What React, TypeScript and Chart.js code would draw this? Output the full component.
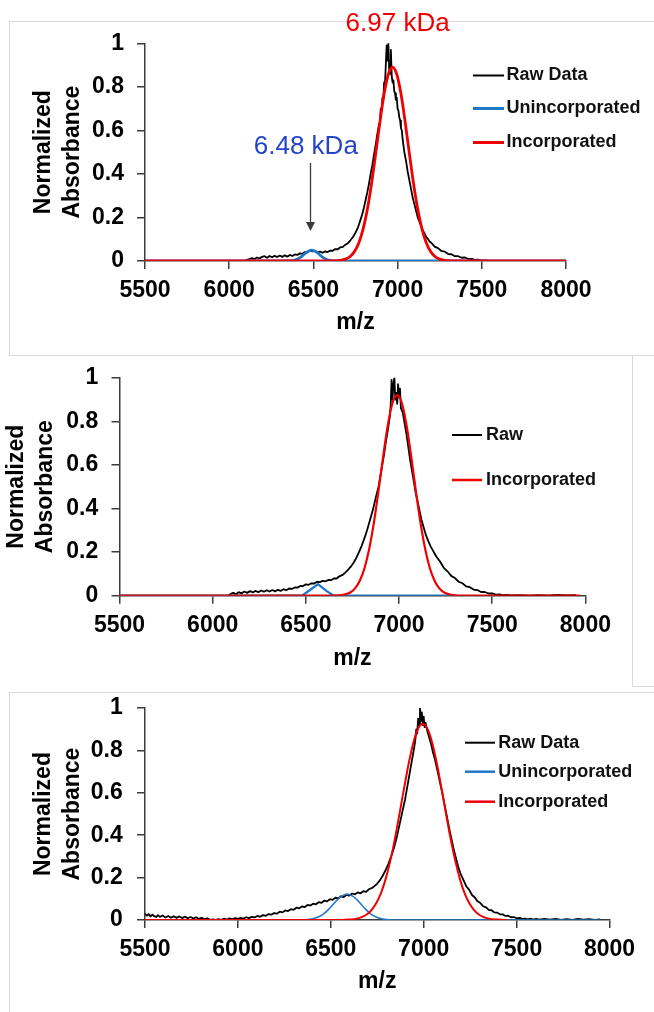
import React, { useEffect, useRef } from "react";
import { Chart, registerables } from "chart.js";

Chart.register(...registerables);

const FONT = "'Liberation Sans', Arial, Helvetica, sans-serif";

// ---------- axes ----------
const X_TICKS = [5500, 6000, 6500, 7000, 7500, 8000];
const X_TICK_LABELS = ["5500", "6000", "6500", "7000", "7500", "8000"];
const Y_TICKS = [0, 0.2, 0.4, 0.6, 0.8, 1];
const Y_TICK_LABELS = ["0", "0.2", "0.4", "0.6", "0.8", "1"];
const X_TITLE = "m/z";
const Y_TITLE = ["Normalized", "Absorbance"];

// ---------- legends / notes ----------
const P1_LABELS = ["Raw Data", "Unincorporated", "Incorporated"];
const P2_LABELS = ["Raw", "Incorporated"];
const P3_LABELS = ["Raw Data", "Unincorporated", "Incorporated"];
const P1_NOTES = ["6.97 kDa", "6.48 kDa"];
const P1_NOTE_MZ = [7000, 6455];
const P1_NOTE_ABS = [1.088, 0.525];
const P1_ARROW_MZ = 6480;
const P1_ARROW_ABS = [0.45, 0.138];

type Pt = [number, number];

// ---------- panel 1 ----------
const P1_RAW: Pt[] = [
  [6090, 0], [6105, 0.005], [6120, 0.009], [6135, 0.013], [6150, 0.009], [6165, 0.016], [6180, 0.012],
  [6195, 0.019], [6210, 0.022], [6225, 0.015], [6240, 0.023], [6255, 0.017], [6270, 0.024], [6285, 0.018],
  [6300, 0.025], [6315, 0.019], [6330, 0.026], [6345, 0.020], [6360, 0.028], [6375, 0.023], [6390, 0.030],
  [6405, 0.028], [6420, 0.035], [6435, 0.033], [6450, 0.041], [6465, 0.040], [6480, 0.047], [6495, 0.044],
  [6510, 0.046], [6525, 0.040], [6540, 0.043], [6555, 0.038], [6570, 0.044], [6585, 0.041], [6600, 0.048],
  [6615, 0.047], [6630, 0.055], [6645, 0.054], [6660, 0.063], [6675, 0.065], [6690, 0.075], [6705, 0.082],
  [6720, 0.095], [6735, 0.11], [6750, 0.13], [6765, 0.155], [6780, 0.19], [6790, 0.215], [6800, 0.245],
  [6810, 0.28], [6820, 0.315], [6830, 0.355], [6840, 0.40], [6850, 0.44], [6860, 0.49], [6870, 0.535],
  [6880, 0.585], [6890, 0.63], [6895, 0.64], [6900, 0.70], [6905, 0.69], [6910, 0.75], [6915, 0.74],
  [6920, 0.82], [6925, 0.81], [6930, 0.90], [6935, 0.99], [6940, 0.92], [6945, 1.0], [6950, 0.88],
  [6955, 0.86], [6960, 0.97], [6965, 0.85], [6970, 0.82], [6975, 0.83], [6980, 0.78], [6985, 0.77],
  [6990, 0.74], [6995, 0.75], [7000, 0.70], [7005, 0.69], [7010, 0.66], [7015, 0.645], [7020, 0.61],
  [7025, 0.60], [7030, 0.56], [7040, 0.50], [7050, 0.46], [7060, 0.41], [7070, 0.37], [7080, 0.33],
  [7090, 0.29], [7100, 0.26], [7110, 0.23], [7120, 0.20], [7130, 0.18], [7140, 0.16], [7150, 0.14],
  [7160, 0.127], [7170, 0.11], [7180, 0.102], [7190, 0.089], [7200, 0.084], [7220, 0.066], [7240, 0.059],
  [7260, 0.046], [7280, 0.043], [7300, 0.032], [7320, 0.031], [7340, 0.022], [7360, 0.022], [7380, 0.015],
  [7400, 0.016], [7420, 0.009], [7440, 0.010], [7460, 0.005], [7480, 0.006], [7500, 0.002], [7520, 0.003],
  [7540, 0.0], [7560, 0],
];
const P1_UNINC: Pt[] = [
  [5500, 0], [6340, 0], [6375, 0.002], [6400, 0.0068], [6425, 0.0176], [6450, 0.0337], [6475, 0.047],
  [6490, 0.05], [6505, 0.047], [6525, 0.037], [6550, 0.0206], [6575, 0.0084], [6600, 0.0025], [6625, 0.0006],
  [6660, 0], [8000, 0],
];
const P1_INC: Pt[] = [
  [5500, 0], [6600, 0], [6645, 0.0017], [6670, 0.0044], [6695, 0.010], [6720, 0.022], [6745, 0.045],
  [6770, 0.084], [6795, 0.146], [6820, 0.236], [6845, 0.354], [6870, 0.493], [6895, 0.638], [6920, 0.768],
  [6945, 0.858], [6970, 0.89], [6995, 0.858], [7020, 0.768], [7045, 0.638], [7070, 0.493], [7095, 0.354],
  [7120, 0.236], [7145, 0.146], [7170, 0.084], [7195, 0.045], [7220, 0.022], [7245, 0.010], [7270, 0.0044],
  [7295, 0.0017], [7340, 0], [8000, 0],
];

// ---------- panel 2 ----------
const P2_RAW: Pt[] = [
  [6080, 0], [6095, 0.007], [6110, 0.013], [6125, 0.007], [6140, 0.016], [6155, 0.011], [6170, 0.019],
  [6185, 0.013], [6200, 0.021], [6215, 0.015], [6230, 0.022], [6245, 0.016], [6260, 0.024], [6275, 0.018],
  [6290, 0.025], [6305, 0.019], [6320, 0.026], [6335, 0.020], [6350, 0.027], [6365, 0.022], [6380, 0.030],
  [6395, 0.025], [6410, 0.033], [6425, 0.031], [6440, 0.038], [6455, 0.037], [6470, 0.045], [6485, 0.044],
  [6500, 0.052], [6515, 0.050], [6530, 0.057], [6545, 0.056], [6560, 0.064], [6575, 0.062], [6590, 0.068],
  [6605, 0.066], [6620, 0.072], [6635, 0.071], [6650, 0.079], [6665, 0.079], [6680, 0.089], [6695, 0.094],
  [6710, 0.105], [6725, 0.117], [6740, 0.132], [6755, 0.15], [6770, 0.172], [6785, 0.20], [6800, 0.23],
  [6815, 0.265], [6830, 0.305], [6845, 0.35], [6860, 0.395], [6875, 0.45], [6890, 0.50], [6900, 0.55],
  [6910, 0.60], [6920, 0.65], [6930, 0.71], [6940, 0.76], [6950, 0.82], [6955, 0.87], [6960, 0.99],
  [6965, 0.90], [6970, 0.97], [6975, 1.0], [6980, 0.90], [6985, 0.93], [6990, 0.88], [6995, 0.97],
  [7000, 0.91], [7005, 0.95], [7010, 0.86], [7020, 0.84], [7030, 0.79], [7040, 0.74], [7050, 0.68],
  [7060, 0.62], [7070, 0.57], [7080, 0.52], [7090, 0.47], [7100, 0.43], [7110, 0.39], [7120, 0.35],
  [7130, 0.32], [7140, 0.29], [7150, 0.265], [7160, 0.245], [7170, 0.225], [7180, 0.21], [7190, 0.195],
  [7200, 0.18], [7220, 0.157], [7240, 0.128], [7260, 0.112], [7280, 0.091], [7300, 0.081], [7320, 0.064],
  [7340, 0.057], [7360, 0.043], [7380, 0.039], [7400, 0.028], [7420, 0.026], [7440, 0.017], [7460, 0.017],
  [7480, 0.010], [7500, 0.011], [7520, 0.005], [7540, 0.006], [7560, 0.002], [7580, 0.004], [7600, 0.001],
  [7650, 0.002], [7700, 0], [7750, 0.003], [7800, 0], [7850, 0.004], [7900, 0.001], [7950, 0.003],
];
const P2_UNINC: Pt[] = [
  [5500, 0], [6480, 0], [6520, 0.025], [6565, 0.053], [6610, 0.022], [6650, 0], [7310, 0],
];
const P2_INC: Pt[] = [
  [5500, 0], [6600, 0], [6640, 0.0003], [6665, 0.001], [6690, 0.003], [6715, 0.007], [6740, 0.016],
  [6765, 0.035], [6790, 0.070], [6815, 0.127], [6840, 0.215], [6865, 0.335], [6890, 0.482], [6915, 0.640],
  [6940, 0.783], [6965, 0.884], [6990, 0.92], [7015, 0.884], [7040, 0.783], [7065, 0.640], [7090, 0.482],
  [7115, 0.335], [7140, 0.215], [7165, 0.127], [7190, 0.070], [7215, 0.035], [7240, 0.016], [7265, 0.007],
  [7290, 0.003], [7315, 0.001], [7340, 0.0003], [7380, 0], [7970, 0],
];

// ---------- panel 3 ----------
const P3_RAW: Pt[] = [
  [5500, 0.030], [5510, 0.020], [5520, 0.028], [5530, 0.017], [5540, 0.025], [5550, 0.018], [5560, 0.014],
  [5570, 0.023], [5580, 0.015], [5595, 0.021], [5610, 0.012], [5625, 0.019], [5640, 0.011], [5655, 0.018],
  [5670, 0.010], [5685, 0.017], [5700, 0.009], [5715, 0.016], [5730, 0.008], [5745, 0.014], [5760, 0.007],
  [5775, 0.013], [5790, 0.005], [5805, 0.010], [5820, 0.003], [5835, 0.008], [5850, 0.001], [5865, 0.003],
  [5880, 0.0], [5895, 0.004], [5910, 0.001], [5925, 0.006], [5940, 0.002], [5955, 0.008], [5970, 0.003],
  [5985, 0.009], [6000, 0.005], [6015, 0.010], [6030, 0.007], [6045, 0.013], [6060, 0.009], [6075, 0.015],
  [6090, 0.012], [6105, 0.019], [6120, 0.015], [6135, 0.023], [6150, 0.020], [6165, 0.028], [6180, 0.025],
  [6195, 0.033], [6210, 0.030], [6225, 0.039], [6240, 0.036], [6255, 0.045], [6270, 0.042], [6285, 0.051],
  [6300, 0.048], [6315, 0.058], [6330, 0.055], [6345, 0.064], [6360, 0.061], [6375, 0.071], [6390, 0.068],
  [6405, 0.077], [6420, 0.074], [6435, 0.084], [6450, 0.081], [6465, 0.091], [6480, 0.088], [6495, 0.098],
  [6510, 0.095], [6525, 0.105], [6540, 0.102], [6555, 0.112], [6570, 0.108], [6585, 0.119], [6600, 0.115],
  [6615, 0.125], [6630, 0.121], [6645, 0.130], [6660, 0.126], [6675, 0.136], [6690, 0.133], [6705, 0.145],
  [6720, 0.150], [6735, 0.160], [6750, 0.172], [6765, 0.188], [6780, 0.21], [6795, 0.235], [6810, 0.265],
  [6825, 0.30], [6840, 0.34], [6855, 0.39], [6870, 0.45], [6885, 0.51], [6900, 0.57], [6910, 0.62],
  [6920, 0.67], [6930, 0.72], [6940, 0.77], [6950, 0.82], [6955, 0.85], [6960, 0.90], [6965, 0.88],
  [6970, 0.95], [6975, 0.92], [6980, 1.0], [6985, 0.94], [6990, 0.98], [6995, 0.92], [7000, 0.96],
  [7005, 0.91], [7010, 0.93], [7020, 0.89], [7030, 0.86], [7040, 0.83], [7050, 0.79], [7060, 0.76],
  [7070, 0.72], [7080, 0.68], [7090, 0.64], [7100, 0.60], [7110, 0.555], [7120, 0.51], [7130, 0.465],
  [7140, 0.42], [7150, 0.38], [7160, 0.34], [7170, 0.305], [7180, 0.27], [7190, 0.24], [7200, 0.215],
  [7215, 0.187], [7230, 0.158], [7245, 0.142], [7260, 0.118], [7275, 0.106], [7290, 0.088], [7305, 0.080],
  [7320, 0.065], [7335, 0.060], [7350, 0.048], [7365, 0.046], [7380, 0.036], [7395, 0.035], [7410, 0.027],
  [7425, 0.027], [7440, 0.019], [7455, 0.020], [7470, 0.013], [7485, 0.014], [7500, 0.008], [7515, 0.010],
  [7530, 0.005], [7545, 0.007], [7560, 0.003], [7575, 0.006], [7590, 0.002], [7605, 0.005], [7620, 0.002],
  [7650, 0.005], [7680, 0.002], [7710, 0.005], [7740, 0.001], [7770, 0.004], [7800, 0.001], [7830, 0.005],
  [7860, 0.002], [7890, 0.004], [7920, 0.001], [7950, 0.003],
];
const P3_UNINC: Pt[] = [
  [5500, 0], [6350, 0], [6388, 0.0035], [6413, 0.008], [6438, 0.0165], [6463, 0.030], [6488, 0.050],
  [6513, 0.074], [6538, 0.098], [6563, 0.115], [6588, 0.122], [6613, 0.115], [6638, 0.098], [6663, 0.074],
  [6688, 0.050], [6713, 0.030], [6738, 0.0165], [6763, 0.008], [6788, 0.0035], [6825, 0], [7950, 0],
];
const P3_INC: Pt[] = [
  [5500, 0], [6540, 0], [6570, 0.0008], [6595, 0.0018], [6620, 0.0038], [6645, 0.0077], [6670, 0.015],
  [6695, 0.027], [6720, 0.048], [6745, 0.080], [6770, 0.127], [6795, 0.193], [6820, 0.279], [6845, 0.383],
  [6870, 0.502], [6895, 0.625], [6920, 0.742], [6945, 0.839], [6970, 0.903], [6995, 0.925], [7020, 0.903],
  [7045, 0.839], [7070, 0.742], [7095, 0.625], [7120, 0.502], [7145, 0.383], [7170, 0.279], [7195, 0.193],
  [7220, 0.127], [7245, 0.080], [7270, 0.048], [7295, 0.027], [7320, 0.015], [7345, 0.0077], [7370, 0.0038],
  [7395, 0.0018], [7420, 0.0008], [7450, 0],
];

// ---------- styles ----------
const BLACK = "#000000";
const BLUE = "#1f77c8";
const RED = "#f00000";
const AXIS = "#3c3c3c";
const FRAME = "#d9d9d9";

interface Series {
  label: string;
  data: Pt[];
  color: string;
  width: number;
  smooth: boolean;
}
interface LegendItem {
  label: string;
  color: string;
  lw: number;
}
interface PanelProps {
  top: number;
  height: number;
  padTop: number;
  padRight: number;
  yAxisWidth: number;
  xAxisHeight: number;
  yTickPad: number;
  yTitlePad: number;
  xTitlePad: number;
  series: Series[]; // drawing order: first = top-most
  legendItems: LegendItem[];
  legend: { x0: number; x1: number; textX: number; rows: number[] };
  notes?: boolean;
}

function makeDeco(p: PanelProps) {
  return {
    id: "deco",
    afterDraw(chart: any) {
      const ctx: CanvasRenderingContext2D = chart.ctx;
      const xs = chart.scales.x;
      const ys = chart.scales.y;
      ctx.save();
      p.legendItems.forEach((it, i) => {
        const y = p.legend.rows[i];
        ctx.beginPath();
        ctx.strokeStyle = it.color;
        ctx.lineWidth = it.lw;
        ctx.moveTo(p.legend.x0, y);
        ctx.lineTo(p.legend.x1, y);
        ctx.stroke();
        ctx.fillStyle = "#111111";
        ctx.font = `bold 18px ${FONT}`;
        ctx.textAlign = "left";
        ctx.textBaseline = "middle";
        ctx.fillText(it.label, p.legend.textX, y);
      });
      if (p.notes) {
        const colors = [RED, "#2444c8"];
        P1_NOTES.forEach((t, i) => {
          ctx.fillStyle = colors[i];
          ctx.font = `26px ${FONT}`;
          ctx.textAlign = "center";
          ctx.textBaseline = "middle";
          ctx.fillText(t, xs.getPixelForValue(P1_NOTE_MZ[i]), ys.getPixelForValue(P1_NOTE_ABS[i]));
        });
        const ax = Math.round(xs.getPixelForValue(P1_ARROW_MZ)) + 0.5;
        const ay0 = ys.getPixelForValue(P1_ARROW_ABS[0]);
        const ay1 = ys.getPixelForValue(P1_ARROW_ABS[1]);
        ctx.strokeStyle = "#3a3a3a";
        ctx.fillStyle = "#3a3a3a";
        ctx.lineWidth = 1.3;
        ctx.beginPath();
        ctx.moveTo(ax, ay0);
        ctx.lineTo(ax, ay1 - 7);
        ctx.stroke();
        ctx.beginPath();
        ctx.moveTo(ax - 4.5, ay1 - 9);
        ctx.lineTo(ax + 4.5, ay1 - 9);
        ctx.lineTo(ax, ay1);
        ctx.closePath();
        ctx.fill();
      }
      ctx.restore();
    },
  };
}

function Panel(props: PanelProps) {
  const ref = useRef<HTMLCanvasElement>(null);
  useEffect(() => {
    const p = props;
    const canvas = ref.current;
    if (!canvas) return;
    const datasets = p.series.map((s) => ({
      label: s.label,
      data: s.data.map(([x, y]) => ({ x, y })),
      borderColor: s.color,
      backgroundColor: s.color,
      borderWidth: s.width,
      pointRadius: 0,
      pointHoverRadius: 0,
      fill: false,
      tension: 0,
      cubicInterpolationMode: s.smooth ? "monotone" : "default",
      borderJoinStyle: "round",
    }));
    const tickFont = { family: FONT, size: 23, weight: "bold" as const };
    const titleFont = { family: FONT, size: 23, weight: "bold" as const };
    const chart = new Chart(canvas, {
      type: "line",
      data: { datasets: datasets as any },
      options: {
        responsive: false,
        animation: false,
        devicePixelRatio: 1,
        events: [],
        layout: { padding: { top: p.padTop, right: p.padRight, bottom: 0, left: 0 } },
        plugins: {
          legend: { display: false },
          tooltip: { enabled: false },
        },
        scales: {
          x: {
            type: "linear",
            min: 5500,
            max: 8000,
            afterBuildTicks: (s: any) => {
              s.ticks = X_TICKS.map((v) => ({ value: v }));
            },
            afterFit: (s: any) => {
              s.height = p.xAxisHeight;
            },
            ticks: {
              autoSkip: false,
              maxRotation: 0,
              minRotation: 0,
              padding: 8,
              color: "#000",
              font: tickFont,
              callback: (_v: any, i: number) => X_TICK_LABELS[i],
            },
            grid: { drawOnChartArea: false, drawTicks: true, tickLength: 8, color: AXIS, lineWidth: 1.5 },
            border: { display: true, color: AXIS, width: 1.5 },
            title: {
              display: true,
              text: X_TITLE,
              color: "#000",
              font: { ...titleFont, lineHeight: 1.2 },
              padding: { top: 0, bottom: p.xTitlePad },
            },
          },
          y: {
            type: "linear",
            min: 0,
            max: 1,
            afterBuildTicks: (s: any) => {
              s.ticks = Y_TICKS.map((v) => ({ value: v }));
            },
            afterFit: (s: any) => {
              s.width = p.yAxisWidth;
            },
            ticks: {
              autoSkip: false,
              padding: p.yTickPad,
              color: "#000",
              font: tickFont,
              callback: (_v: any, i: number) => Y_TICK_LABELS[i],
            },
            grid: { drawOnChartArea: false, drawTicks: true, tickLength: 8, color: AXIS, lineWidth: 1.5 },
            border: { display: true, color: AXIS, width: 1.5 },
            title: {
              display: true,
              text: Y_TITLE,
              color: "#000",
              font: { ...titleFont, lineHeight: 1.26 },
              padding: { top: p.yTitlePad, bottom: 0 },
            },
          },
        },
      } as any,
      plugins: [makeDeco(p)],
    });
    return () => chart.destroy();
  }, []);
  return (
    <canvas
      ref={ref}
      width={654}
      height={props.height}
      style={{ position: "absolute", left: 0, top: props.top, width: 654, height: props.height, display: "block" }}
    />
  );
}

export default function App() {
  const p1: PanelProps = {
    top: 0,
    height: 350,
    padTop: 43.3,
    padRight: 88,
    yAxisWidth: 145,
    xAxisHeight: 89,
    yTickPad: 13,
    yTitlePad: 29.5,
    xTitlePad: 13.2,
    series: [
      { label: P1_LABELS[2], data: P1_INC, color: RED, width: 2.8, smooth: true },
      { label: P1_LABELS[1], data: P1_UNINC, color: BLUE, width: 2.8, smooth: true },
      { label: P1_LABELS[0], data: P1_RAW, color: BLACK, width: 1.8, smooth: false },
    ],
    legendItems: [
      { label: P1_LABELS[0], color: BLACK, lw: 2 },
      { label: P1_LABELS[1], color: BLUE, lw: 3 },
      { label: P1_LABELS[2], color: RED, lw: 3 },
    ],
    legend: { x0: 473, x1: 504, textX: 506.5, rows: [75.5, 108.5, 142.5] },
    notes: true,
  };
  const p2: PanelProps = {
    top: 350,
    height: 330,
    padTop: 27.7,
    padRight: 68.6,
    yAxisWidth: 119.5,
    xAxisHeight: 84.3,
    yTickPad: 13.2,
    yTitlePad: 2.2,
    xTitlePad: 7.9,
    series: [
      { label: P2_LABELS[1], data: P2_INC, color: RED, width: 2.2, smooth: true },
      { label: "Unincorporated", data: P2_UNINC, color: BLUE, width: 2.2, smooth: false },
      { label: P2_LABELS[0], data: P2_RAW, color: BLACK, width: 1.8, smooth: false },
    ],
    legendItems: [
      { label: P2_LABELS[0], color: BLACK, lw: 2 },
      { label: P2_LABELS[1], color: RED, lw: 2.5 },
    ],
    legend: { x0: 452, x1: 482, textX: 486, rows: [85, 130] },
  };
  const p3: PanelProps = {
    top: 680,
    height: 332,
    padTop: 21.7,
    padRight: 44.5,
    yAxisWidth: 145,
    xAxisHeight: 92,
    yTickPad: 14.3,
    yTitlePad: 29.5,
    xTitlePad: 16.5,
    series: [
      { label: P3_LABELS[2], data: P3_INC, color: RED, width: 2, smooth: true },
      { label: P3_LABELS[1], data: P3_UNINC, color: BLUE, width: 1.6, smooth: true },
      { label: P3_LABELS[0], data: P3_RAW, color: BLACK, width: 1.8, smooth: false },
    ],
    legendItems: [
      { label: P3_LABELS[0], color: BLACK, lw: 2 },
      { label: P3_LABELS[1], color: BLUE, lw: 2.5 },
      { label: P3_LABELS[2], color: RED, lw: 2.5 },
    ],
    legend: { x0: 465, x1: 495, textX: 498.3, rows: [62.7, 91.7, 121.7] },
  };
  return (
    <div
      style={{
        position: "absolute",
        left: 0,
        top: 0,
        width: 654,
        height: 1012,
        overflow: "hidden",
        background: "#ffffff",
      }}
    >
      <div style={{ position: "absolute", left: 9, top: 21, width: 700, height: 333, border: `1px solid ${FRAME}` }} />
      <div style={{ position: "absolute", left: 632, top: 355, width: 100, height: 330, border: `1px solid ${FRAME}` }} />
      <div style={{ position: "absolute", left: 9, top: 692, width: 700, height: 400, border: `1px solid ${FRAME}` }} />
      <Panel {...p1} />
      <Panel {...p2} />
      <Panel {...p3} />
    </div>
  );
}
